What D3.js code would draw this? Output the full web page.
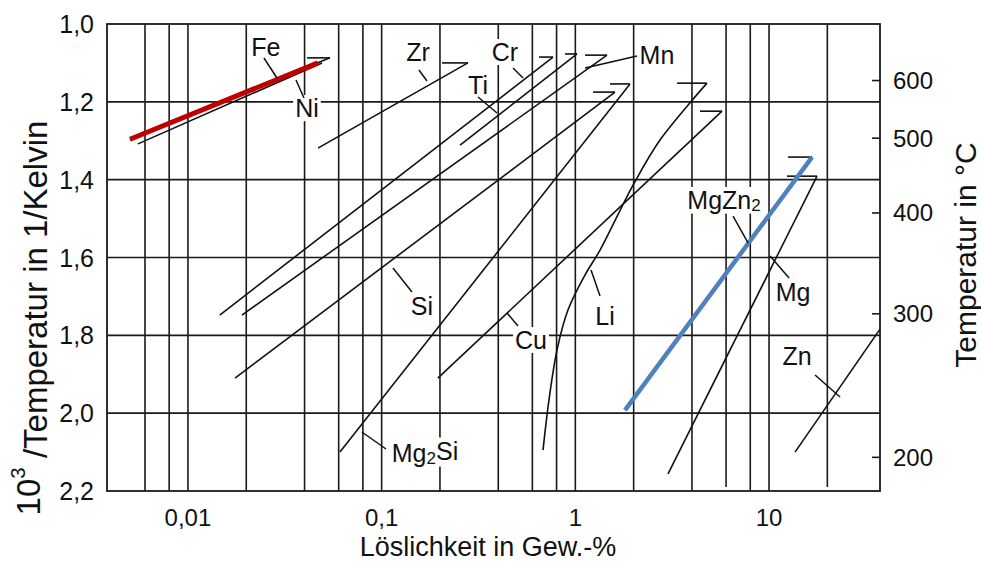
<!DOCTYPE html>
<html>
<head>
<meta charset="utf-8">
<script src="https://cdn.jsdelivr.net/npm/d3@7"></script>
<style>
  body { margin: 0; background: #fff; }
  svg { display: block; }
  text { font-family: "Liberation Sans", Arial, Helvetica, sans-serif; fill: #111; }
</style>
</head>
<body>
<svg id="chart" width="981" height="562"></svg>
<script>
// ---- axis data -------------------------------------------------------------
const xTickValues = [0.01, 0.1, 1, 10];
const xTickLabels = ["0,01", "0,1", "1", "10"];
const xGridValues = [0.006, 0.008, 0.01, 0.02, 0.04, 0.06, 0.08, 0.1, 0.2, 0.4, 0.6, 0.8,
                     1, 2, 4, 6, 8, 10, 20];
const xGridShort = [6, 20];               // grid lines that stop just above the base line
const yTickValues = [1.0, 1.2, 1.4, 1.6, 1.8, 2.0, 2.2];
const yTickLabels = ["1,0", "1,2", "1,4", "1,6", "1,8", "2,0", "2,2"];
const tempTicksC = [600, 500, 400, 300, 200];

// ---- solubility curves: concentration (Gew.-%) vs 1000/T (1/K) -------------
const alloyNames = ["Fe", "Ni", "Zr", "Cr", "Ti", "Mn", "Si", "Mg2Si", "Cu", "Li", "MgZn2", "Mg", "Zn"];
const solubilityPct = [
  [0.00502, 0.0541],                 // Fe
  [0.00552, 0.0492],                 // Ni
  [0.0469, 0.279],                   // Zr
  [0.0146, 0.767],                   // Cr
  [0.254, 1.02],                     // Ti
  [0.0190, 1.457],                   // Mn
  [0.0175, 1.602],                   // Si
  [0.0609, 1.915],                   // Mg2Si
  [0.195, 5.72],                     // Cu
  [0.681, 0.731, 0.804, 0.916, 1.122, 1.341, 1.986, 2.736, 4.785], // Li
  [1.805, 16.67],                    // MgZn2
  [3.009, 17.69],                    // Mg
  [13.62, 37.4]                      // Zn
];
const inverseTemp = [
  [1.298, 1.087],
  [1.308, 1.100],
  [1.319, 1.100],
  [1.748, 1.085],
  [1.311, 1.077],
  [1.748, 1.080],
  [1.910, 1.175],
  [2.100, 1.154],
  [1.910, 1.224],
  [2.095, 1.966, 1.838, 1.735, 1.645, 1.581, 1.414, 1.298, 1.152],
  [1.992, 1.342],
  [2.156, 1.391],
  [2.100, 1.784]
];
// start of the horizontal eutectic bar at the top end of a curve (null = none)
const eutecticFromPct = [0.0412, null, 0.205, 0.649, 0.884, 1.122, 1.234, 1.51, 4.40, 3.35, 12.54, 12.38, null];

// highlighted curves
const highlightRedPct = [0.00502, 0.0469];
const highlightRedT = [1.296, 1.100];
const highlightBluePct = [1.805, 16.67];
const highlightBlueT = [1.992, 1.342];

// ---- curve labels and their leader lines (data coordinates) ----------------
const labelText = ["Fe", "Ni", "Zr", "Ti", "Cr", "Mn", "Si", "Cu", "Li", "Mg2Si", "MgZn2", "Mg", "Zn"];
const labelPct = [0.02527, 0.04115, 0.154, 0.3144, 0.4334, 2.639, 0.1615, 0.5903, 1.4226, 0.1674, 5.855, 13.30, 13.95];
const labelT = [1.059, 1.216, 1.072, 1.157, 1.072, 1.080, 1.7246, 1.812, 1.7503, 2.1023, 1.4522, 1.6886, 1.8531];
const leaderPct = [
  [0.02468, 0.02881], [0.03612, 0.03972], [0.1558, 0.1714], [0.3144, 0.3940],
  [0.4767, 0.5368], [1.1218, 2.082], [0.1144, 0.1434], [0.4438, 0.5058],
  [1.205, 1.341], [0.0791, 0.1053], [6.52, 7.79], [10.12, 12.69], [17.28, 23.26]
];
const leaderT = [
  [1.0874, 1.1388], [1.1439, 1.1901], [1.1182, 1.1465], [1.1876, 1.2287],
  [1.1131, 1.1388], [1.1131, 1.0822], [1.627, 1.6886], [1.7426, 1.776],
  [1.6321, 1.6989], [2.0484, 2.0921], [1.4934, 1.5627], [1.5961, 1.6527], [1.9019, 1.9585]
];

// ---- layout ---------------------------------------------------------------
const svg = d3.select("#chart");
const plot = { left: 107, right: 880, top: 24, bottom: 491 };

const x = d3.scaleLog().domain([0.00382, 37.4]).range([plot.left, plot.right]);
const y = d3.scaleLinear().domain([1.0, 2.2]).range([plot.top, plot.bottom]);
const invT = c => 1000 / (c + 273.15);

const gridColor = "#1a1a1a";

svg.append("defs").append("clipPath").attr("id", "plotClip")
  .append("rect")
  .attr("x", plot.left).attr("y", plot.top)
  .attr("width", plot.right - plot.left).attr("height", plot.bottom - plot.top);

// grid
const grid = svg.append("g").attr("stroke", gridColor).attr("stroke-width", 1.6);
grid.selectAll("line.v").data(xGridValues).join("line")
  .attr("x1", d => x(d)).attr("x2", d => x(d))
  .attr("y1", plot.top)
  .attr("y2", d => xGridShort.includes(d) ? plot.bottom - 4 : plot.bottom);
grid.selectAll("line.h").data(yTickValues.slice(1, -1)).join("line")
  .attr("x1", plot.left).attr("x2", plot.right)
  .attr("y1", d => y(d)).attr("y2", d => y(d));

// frame
svg.append("rect")
  .attr("x", plot.left).attr("y", plot.top)
  .attr("width", plot.right - plot.left).attr("height", plot.bottom - plot.top)
  .attr("fill", "none").attr("stroke", gridColor).attr("stroke-width", 1.8);

// right-hand temperature ticks (inward)
svg.append("g").attr("stroke", gridColor).attr("stroke-width", 1.6)
  .selectAll("line").data(tempTicksC).join("line")
  .attr("x1", plot.right - 8).attr("x2", plot.right)
  .attr("y1", d => y(invT(d))).attr("y2", d => y(invT(d)));

// label backgrounds sit under the curves but over the grid
const bgLayer = svg.append("g");
const curveLayer = svg.append("g").attr("clip-path", "url(#plotClip)");
const labelLayer = svg.append("g");

const line = d3.line().x(d => x(d[0])).y(d => y(d[1]));
const curvedLine = d3.line().x(d => x(d[0])).y(d => y(d[1])).curve(d3.curveCatmullRom.alpha(0.5));

alloyNames.forEach((name, i) => {
  const pts = solubilityPct[i].map((c, k) => [c, inverseTemp[i][k]]);
  curveLayer.append("path")
    .attr("d", pts.length > 2 ? curvedLine(pts) : line(pts))
    .attr("fill", "none").attr("stroke", "#111").attr("stroke-width", 1.6);
  if (eutecticFromPct[i] !== null) {
    const top = pts[pts.length - 1];
    curveLayer.append("line")
      .attr("x1", x(eutecticFromPct[i])).attr("x2", x(top[0]))
      .attr("y1", y(top[1])).attr("y2", y(top[1]))
      .attr("stroke", "#111").attr("stroke-width", 1.6);
  }
});

// highlighted curves
curveLayer.append("path")
  .attr("d", line(highlightRedPct.map((c, k) => [c, highlightRedT[k]])))
  .attr("fill", "none").attr("stroke", "#c00000").attr("stroke-width", 5);
curveLayer.append("path")
  .attr("d", line(highlightBluePct.map((c, k) => [c, highlightBlueT[k]])))
  .attr("fill", "none").attr("stroke", "#4f81bd").attr("stroke-width", 4.5);

// leader lines
labelLayer.append("g").attr("stroke", "#111").attr("stroke-width", 1.5)
  .selectAll("line").data(leaderPct).join("line")
  .attr("x1", d => x(d[0])).attr("x2", d => x(d[1]))
  .attr("y1", (d, i) => y(leaderT[i][0])).attr("y2", (d, i) => y(leaderT[i][1]));

// labels with chemical subscripts
function addFormula(sel, str) {
  str.split(/(\d+)/).filter(s => s.length).forEach(part => {
    const t = sel.append("tspan").text(part);
    if (/^\d+$/.test(part)) t.attr("font-size", "0.68em").attr("dy", "0.3em");
    else if (sel.selectAll("tspan").size() > 1) t.attr("dy", "-0.3em");
  });
}
labelText.forEach((str, i) => {
  const t = labelLayer.append("text")
    .attr("x", x(labelPct[i])).attr("y", y(labelT[i]))
    .attr("text-anchor", "middle").attr("dominant-baseline", "central")
    .attr("font-size", 25);
  addFormula(t, str);
  const b = t.node().getBBox();
  bgLayer.append("rect")
    .attr("x", b.x - 2).attr("y", b.y + 1)
    .attr("width", b.width + 4).attr("height", b.height - 2)
    .attr("fill", "#fff");
});

// axis tick labels
svg.append("g").selectAll("text").data(xTickValues).join("text")
  .attr("x", d => x(d)).attr("y", 526)
  .attr("text-anchor", "middle")
  .attr("font-size", 24).text((d, i) => xTickLabels[i]);

svg.append("g").selectAll("text").data(yTickValues).join("text")
  .attr("x", 94).attr("y", d => y(d))
  .attr("text-anchor", "end").attr("dominant-baseline", "central")
  .attr("font-size", 25).text((d, i) => yTickLabels[i]);

svg.append("g").selectAll("text").data(tempTicksC).join("text")
  .attr("x", 893).attr("y", d => y(invT(d)))
  .attr("text-anchor", "start").attr("dominant-baseline", "central")
  .attr("font-size", 24).text(d => d);

// axis titles
svg.append("text")
  .attr("x", 488).attr("y", 556)
  .attr("text-anchor", "middle")
  .attr("font-size", 27).text("Löslichkeit in Gew.-%");

const yTitle = svg.append("text")
  .attr("transform", "translate(28,318) rotate(-90)")
  .attr("text-anchor", "middle").attr("dominant-baseline", "central")
  .attr("font-size", 33);
yTitle.append("tspan").text("10");
yTitle.append("tspan").text("3").attr("font-size", "0.62em").attr("dy", "-0.55em");
yTitle.append("tspan").text(" /Temperatur in 1/Kelvin").attr("dy", "0.55em");

svg.append("text")
  .attr("transform", "translate(965,255) rotate(-90)")
  .attr("text-anchor", "middle").attr("dominant-baseline", "central")
  .attr("font-size", 30).text("Temperatur in °C");
</script>
</body>
</html>
